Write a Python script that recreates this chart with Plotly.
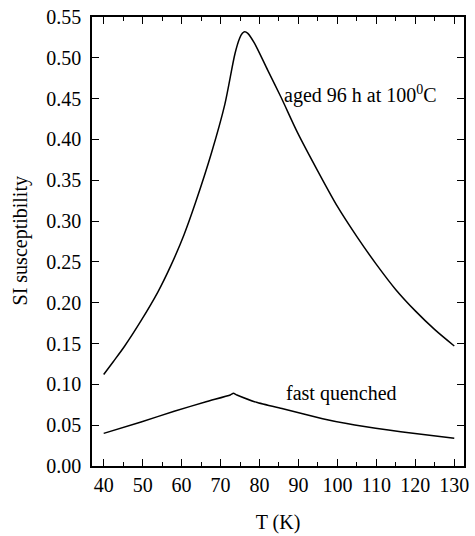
import plotly.graph_objects as go

aged_T = [40, 42.5, 45.4, 49.6, 53.9, 57.3, 60.6, 63.6, 67.7, 71.1, 73.7, 74.9, 75.6, 76.2, 77.0, 78.7, 82.1, 85.5, 89.7, 95, 100, 105, 110, 115, 120, 125, 130]
aged_chi = [0.112, 0.128, 0.147, 0.178, 0.213, 0.246, 0.283, 0.323, 0.384, 0.443, 0.505, 0.524, 0.530, 0.532, 0.530, 0.518, 0.485, 0.452, 0.409, 0.361, 0.318, 0.281, 0.247, 0.216, 0.190, 0.167, 0.147]

fast_T = [40, 49.6, 58.1, 66.5, 72.5, 73.3, 74.2, 79.2, 86.0, 96.2, 102.4, 113.1, 119.4, 130]
fast_chi = [0.040, 0.054, 0.067, 0.079, 0.087, 0.089, 0.087, 0.078, 0.070, 0.058, 0.052, 0.044, 0.040, 0.034]

FONT = "Liberation Serif"

fig = go.Figure()
fig.add_trace(go.Scatter(x=aged_T, y=aged_chi, mode="lines",
                         line=dict(color="black", width=1.5, shape="spline", smoothing=0.8),
                         showlegend=False))
fig.add_trace(go.Scatter(x=fast_T, y=fast_chi, mode="lines",
                         line=dict(color="black", width=1.5, shape="spline", smoothing=0.5),
                         showlegend=False))

fig.add_annotation(x=85.9, y=0.455, xanchor="left", yanchor="middle",
                   text="aged 96 h at 100<sup>0</sup>C", showarrow=False,
                   font=dict(family=FONT, size=20, color="black"))
fig.add_annotation(x=86.2, y=0.089, xanchor="left", yanchor="middle",
                   text="fast quenched", showarrow=False,
                   font=dict(family=FONT, size=20, color="black"))
fig.add_annotation(xref="paper", yref="paper",
                   x=(20 - 92) / (469 - 92), y=(466 - 239) / (466 - 14),
                   xanchor="center", yanchor="middle", showarrow=False,
                   text="SI susceptibility", textangle=-90,
                   font=dict(family=FONT, size=20, color="black"))

fig.update_layout(
    width=475, height=536,
    margin=dict(l=92, r=6, t=14, b=70),
    plot_bgcolor="white", paper_bgcolor="white",
    font=dict(family=FONT, size=20, color="black"),
    xaxis=dict(range=[37, 132.5], tickmode="linear", tick0=40, dtick=10,
               ticks="inside", ticklen=7, tickwidth=1.2, tickcolor="black",
               showline=True, linecolor="black", linewidth=1.5, mirror="ticks",
               showgrid=False, zeroline=False,
               minor=dict(dtick=5, tick0=40, ticks="inside", ticklen=4, tickwidth=1.2,
                          tickcolor="black", showgrid=False),
               title=dict(text="T (K)", standoff=20, font=dict(family=FONT, size=20)),
               tickfont=dict(family=FONT, size=20)),
    yaxis=dict(range=[0, 0.55], tickmode="linear", tick0=0, dtick=0.05, tickformat=".2f",
               ticks="inside", ticklen=7, tickwidth=1.2, tickcolor="black",
               showline=True, linecolor="black", linewidth=1.5, mirror="ticks",
               showgrid=False, zeroline=False, ticklabelstandoff=5,
               tickfont=dict(family=FONT, size=20)),
)

fig.write_html("out.html")
